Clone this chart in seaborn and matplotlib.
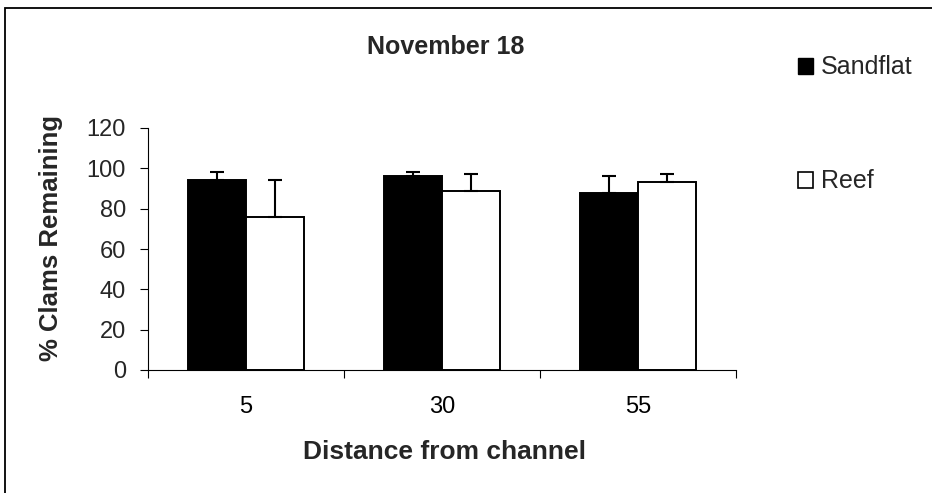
import matplotlib
matplotlib.use("Agg")
import matplotlib.pyplot as plt
from matplotlib.patches import Rectangle, Patch
import numpy as np
import pandas as pd
import seaborn as sns

# Data
distances = ["5", "30", "55"]
habitats = ["Sandflat", "Reef"]
sandflat_mean = [94, 96, 88]
reef_mean = [76, 89, 93]
sandflat_err = [4, 2, 8]
reef_err = [18, 8, 4]
y_ticks = [0, 20, 40, 60, 80, 100, 120]

df = pd.DataFrame({
    "Distance": distances * 2,
    "Habitat": [habitats[0]] * 3 + [habitats[1]] * 3,
    "Remaining": sandflat_mean + reef_mean,
})

sns.set_theme(style="white")
plt.rcParams["font.family"] = ["Liberation Sans", "DejaVu Sans"]

fig = plt.figure(figsize=(9.32, 4.93), dpi=100)
fig.patch.set_facecolor("white")
ax = fig.add_axes([148 / 932, 1 - 370 / 493, (736 - 148) / 932, (370 - 128) / 493])

sns.barplot(
    data=df, x="Distance", y="Remaining", hue="Habitat",
    order=distances, hue_order=habitats,
    palette=["black", "white"], edgecolor="black", linewidth=1.4,
    width=0.59, errorbar=None, legend=False, ax=ax,
)

# Upper-only error bars placed on each bar
for container, errs in zip(ax.containers, [sandflat_err, reef_err]):
    xs = [p.get_x() + p.get_width() / 2 for p in container]
    ys = [p.get_height() for p in container]
    ax.errorbar(xs, ys, yerr=[np.zeros(len(errs)), errs], fmt="none",
                ecolor="black", elinewidth=1.5, capsize=4.7, capthick=1.5,
                zorder=1)

ax.set_ylim(0, 120)
ax.set_xlim(-0.5, 2.5)
ax.set_yticks(y_ticks)
ax.set_yticklabels([str(v) for v in y_ticks])

# Category labels centred, tick marks between categories
ax.set_xticks(range(len(distances)))
ax.set_xticklabels(distances)
ax.set_xticks([-0.5, 0.5, 1.5, 2.5], minor=True)
ax.tick_params(axis="x", which="major", length=0, pad=19, labelsize=17, colors="black")
ax.tick_params(axis="x", which="minor", length=6, width=0.8, direction="out",
               color="black", bottom=True)
ax.tick_params(axis="y", which="major", length=6, width=0.8, direction="out",
               pad=10, labelsize=17, color="black", left=True)

for side in ["top", "right"]:
    ax.spines[side].set_visible(False)
for side in ["left", "bottom"]:
    ax.spines[side].set_color("black")
    ax.spines[side].set_linewidth(0.8)

ax.set_xlabel("Distance from channel", fontsize=19, fontweight="bold")
ax.xaxis.set_label_coords(0.505, -0.34)
ax.xaxis.label.set_va("center")
ax.set_ylabel("% Clams Remaining", fontsize=18.5, fontweight="bold")
ax.yaxis.set_label_coords(-0.165, 0.545)
ax.yaxis.label.set_va("center")

fig.text(446 / 932, 1 - 47 / 493, "November 18", ha="center", va="center",
         fontsize=18, fontweight="bold")

handles = [Patch(facecolor="black", edgecolor="black", linewidth=1.0),
           Patch(facecolor="white", edgecolor="black", linewidth=1.2)]
fig.legend(handles, habitats, loc="upper left",
           bbox_to_anchor=(785 / 932, 1 - 43 / 493), frameon=False,
           fontsize=18, handlelength=0.6, handleheight=0.6,
           handletextpad=0.35, labelspacing=3.6, borderpad=0)

# Outer frame around the chart area
fig.add_artist(Rectangle((5 / 932, -0.1), 1.2, 1.1 - 8 / 493,
                         transform=fig.transFigure, fill=False,
                         edgecolor="black", linewidth=1.3))

fig.savefig("out.png", dpi=100, facecolor="white")
